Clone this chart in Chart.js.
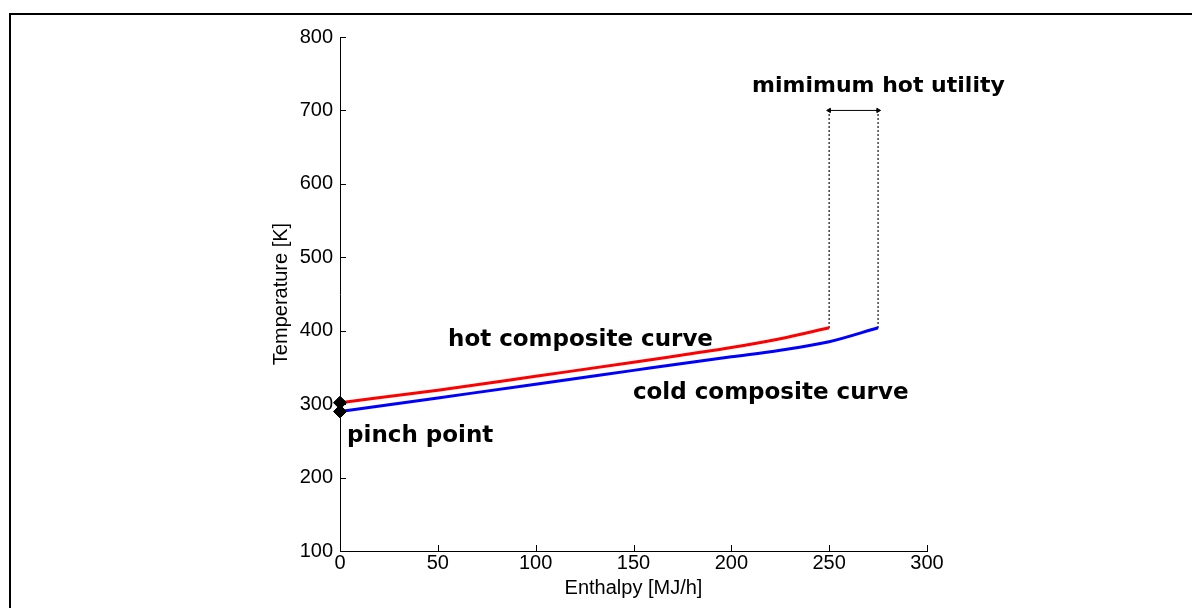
<!DOCTYPE html>
<html lang="en">
<head>
<meta charset="UTF-8">
<title>Composite curves</title>
<script src="https://cdn.jsdelivr.net/npm/chart.js"></script>
<style>
    body { margin: 0; background: #fff; }
    #wrap { position: relative; width: 1192px; height: 608px; }
</style>
</head>
<body>
<div id="wrap"><canvas id="chart" width="1192" height="608"></canvas></div>
<script>
// Hot and cold composite curves (enthalpy in MJ/h, temperature in K)
const hotH = [0, 50, 100, 150, 175, 200, 225, 250];
const hotT = [302, 319, 338, 357, 367, 377, 389, 404];
const coldH = [0, 50, 100, 150, 175, 200, 225, 250, 275];
const coldT = [290, 308.5, 327, 346, 355.5, 364.5, 373.5, 385, 404];

// pinch point markers
const pinchH = [0, 0];
const pinchT = [302, 290];

// minimum hot utility span (end of hot curve -> end of cold curve)
const utilityH = [250, 275];
const utilityT = 700;

const xTicks = [0, 50, 100, 150, 200, 250, 300];
const yTicks = [100, 200, 300, 400, 500, 600, 700, 800];

const xTitle = 'Enthalpy [MJ/h]';
const yTitle = 'Temperature [K]';

// text labels, placed in data units
const notes = [
    { text: 'hot composite curve', x: 55.2, y: 379, font: 'bold 23px "DejaVu Sans"' },
    { text: 'cold composite curve', x: 149.7, y: 307, font: 'bold 23px "DejaVu Sans"' },
    { text: 'pinch point', x: 3.6, y: 248.5, font: 'bold 23px "DejaVu Sans"' },
    { text: 'mimimum hot utility', x: 210.6, y: 725, font: 'bold 22px "DejaVu Sans"' }
];

const pts = (xs, ys) => xs.map((x, i) => ({ x: x, y: ys[i] }));

const tickFont = { family: 'Liberation Sans', size: 20 };

const decor = {
    id: 'decor',
    beforeDraw(chart) {
        const c = chart.ctx;
        c.save();
        c.strokeStyle = '#000';
        c.lineWidth = 2;
        c.beginPath();
        c.moveTo(10, 608);
        c.lineTo(10, 14);
        c.lineTo(1192, 14);
        c.stroke();
        c.restore();
    },
    afterDatasetsDraw(chart) {
        const c = chart.ctx;
        const a = chart.chartArea;
        const xs = chart.scales.x, ys = chart.scales.y;
        c.save();
        // inward tick marks
        c.strokeStyle = '#000';
        c.lineWidth = 1;
        c.beginPath();
        yTicks.forEach(v => {
            const p = Math.round(ys.getPixelForValue(v)) + 0.5;
            c.moveTo(a.left, p);
            c.lineTo(a.left + 6, p);
        });
        xTicks.forEach(v => {
            const p = Math.round(xs.getPixelForValue(v)) + 0.5;
            c.moveTo(p, a.bottom);
            c.lineTo(p, a.bottom - 6);
        });
        c.stroke();

        // axis titles
        c.fillStyle = '#000';
        c.font = '20px "Liberation Sans"';
        c.textAlign = 'center';
        c.textBaseline = 'middle';
        c.fillText(xTitle, (a.left + a.right) / 2, 588);
        c.save();
        c.translate(281, (a.top + a.bottom) / 2);
        c.rotate(-Math.PI / 2);
        c.fillText(yTitle, 0, 0);
        c.restore();

        // annotations
        c.textAlign = 'left';
        c.textBaseline = 'alphabetic';
        notes.forEach(n => {
            c.font = n.font;
            c.fillText(n.text, xs.getPixelForValue(n.x), ys.getPixelForValue(n.y));
        });
        c.restore();
    }
};

new Chart(document.getElementById('chart'), {
    type: 'scatter',
    data: {
        datasets: [
            {
                data: pts(hotH, hotT),
                showLine: true,
                cubicInterpolationMode: 'monotone',
                borderColor: '#ff0000',
                borderWidth: 3,
                pointRadius: 0
            },
            {
                data: pts(coldH, coldT),
                showLine: true,
                cubicInterpolationMode: 'monotone',
                borderColor: '#0000ff',
                borderWidth: 3,
                pointRadius: 0
            },
            {
                data: [{ x: utilityH[0], y: hotT[hotT.length - 1] }, { x: utilityH[0], y: utilityT }],
                showLine: true,
                borderColor: '#000',
                borderWidth: 1.5,
                borderDash: [1.5, 2.5],
                pointRadius: 0
            },
            {
                data: [{ x: utilityH[1], y: coldT[coldT.length - 1] }, { x: utilityH[1], y: utilityT }],
                showLine: true,
                borderColor: '#000',
                borderWidth: 1.5,
                borderDash: [1.5, 2.5],
                pointRadius: 0
            },
            {
                data: utilityH.map(h => ({ x: h, y: utilityT })),
                showLine: true,
                borderColor: '#000',
                backgroundColor: '#000',
                borderWidth: 1,
                pointStyle: 'triangle',
                pointRotation: [-90, 90],
                pointRadius: 2.5
            },
            {
                data: pts(pinchH, pinchT),
                showLine: false,
                clip: false,
                order: -1,
                pointStyle: 'rectRot',
                pointRadius: 6.5,
                backgroundColor: '#000',
                borderColor: '#000',
                borderWidth: 1
            }
        ]
    },
    options: {
        responsive: false,
        animation: false,
        layout: { padding: { top: 37, right: 265, left: 0, bottom: 0 } },
        plugins: { legend: { display: false }, tooltip: { enabled: false } },
        scales: {
            x: {
                type: 'linear',
                min: 0,
                max: 300,
                afterBuildTicks: s => { s.ticks = xTicks.map(v => ({ value: v })); },
                afterFit: s => { s.height = 57; },
                grid: { display: false, drawTicks: false },
                border: { display: true, color: '#000', width: 1 },
                ticks: { font: tickFont, color: '#000', padding: 0, maxRotation: 0 }
            },
            y: {
                type: 'linear',
                min: 100,
                max: 800,
                afterBuildTicks: s => { s.ticks = yTicks.map(v => ({ value: v })); },
                afterFit: s => { s.width = 340; },
                grid: { display: false, drawTicks: false },
                border: { display: true, color: '#000', width: 1 },
                ticks: { font: tickFont, color: '#000', padding: 7 }
            }
        }
    },
    plugins: [decor]
});
</script>
</body>
</html>
